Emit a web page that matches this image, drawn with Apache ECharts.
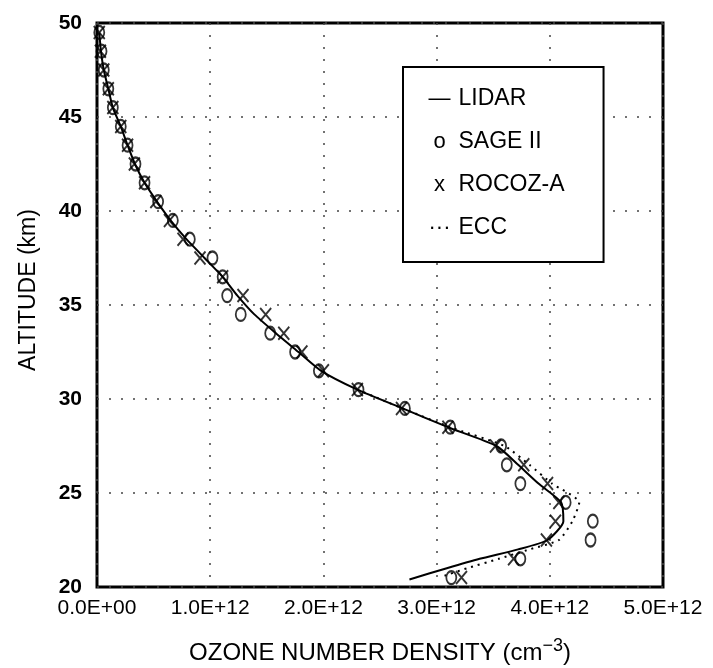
<!DOCTYPE html>
<html>
<head>
<meta charset="utf-8">
<script src="https://cdn.jsdelivr.net/npm/echarts@6/dist/echarts.min.js"></script>
<style>
  html, body { margin: 0; background: #fff; }
  #chart { width: 713px; height: 668px; }
</style>
</head>
<body>
<div id="chart"></div>
<script>
// altitudes (km) of the SAGE II / ROCOZ-A levels
const markerAlt = [49.5, 48.5, 47.5, 46.5, 45.5, 44.5, 43.5, 42.5, 41.5, 40.5,
  39.5, 38.5, 37.5, 36.5, 35.5, 34.5, 33.5, 32.5, 31.5, 30.5,
  29.5, 28.5, 27.5, 26.5, 25.5, 24.5, 23.5, 22.5, 21.5, 20.5];
// number density, units of 1E+12 cm-3
const sageVals = [0.02, 0.04, 0.06, 0.10, 0.14, 0.21, 0.27, 0.34, 0.42, 0.54,
  0.67, 0.82, 1.02, 1.11, 1.15, 1.27, 1.53, 1.75, 1.96, 2.31,
  2.72, 3.12, 3.57, 3.62, 3.74, 4.14, 4.38, 4.36, 3.74, 3.13];
const rocozVals = [0.02, 0.03, 0.06, 0.10, 0.14, 0.21, 0.27, 0.33, 0.42, 0.52,
  0.64, 0.76, 0.91, 1.11, 1.29, 1.49, 1.65, 1.81, 2.00, 2.30,
  2.69, 3.10, 3.52, 3.77, 3.98, 4.08, 4.05, 3.97, 3.68, 3.22];

const lidarAlt = [49.5, 48.5, 47.5, 46.5, 45.5, 44.5, 43.5, 42.5, 41.5, 40.5,
  39.5, 38.5, 37.5, 36.5, 35.5, 34.5, 33.5, 32.5, 31.5, 30.5,
  29.5, 28.5, 27.5, 26.5, 25.5, 24.5, 23.5, 22.5, 22.0, 21.5, 21.0, 20.4];
const lidarVals = [0.02, 0.035, 0.06, 0.10, 0.14, 0.21, 0.27, 0.335, 0.42, 0.53,
  0.65, 0.79, 0.95, 1.11, 1.24, 1.39, 1.58, 1.78, 1.98, 2.30,
  2.70, 3.10, 3.53, 3.72, 3.90, 4.10, 4.12, 3.98, 3.72, 3.38, 3.09, 2.76];

const eccAlt = [30.5, 29.5, 28.5, 27.5, 26.5, 25.5, 24.5, 23.5, 22.5, 22.0, 21.5, 21.0, 20.6];
const eccVals = [2.30, 2.70, 3.12, 3.60, 3.82, 4.02, 4.26, 4.20, 4.08, 3.82, 3.55, 3.27, 3.07];

const xTickLabels = ['0.0E+00', '1.0E+12', '2.0E+12', '3.0E+12', '4.0E+12', '5.0E+12'];
const legendNames = ['LIDAR', 'SAGE II', 'ROCOZ-A', 'ECC'];
const legendMarks = ['—', 'o', 'x', '···'];

const FONT = '"Liberation Sans", Arial, sans-serif';

function pairs(vals, alts) {
  return vals.map((v, i) => [v, alts[i]]);
}

var myChart = echarts.init(document.getElementById('chart'));
myChart.setOption({
  animation: false,
  grid: {
    left: 97, right: 50, top: 23, bottom: 81,
    show: true,
    borderColor: '#000',
    borderWidth: 3,
    outerBoundsMode: 'none'
  },
  legend: {
    data: legendNames,
    orient: 'vertical',
    left: 403,
    top: 67,
    padding: [20, 39, 23, 10],
    itemGap: 20,
    itemWidth: 0,
    itemHeight: 0,
    selectedMode: false,
    borderColor: '#000',
    borderWidth: 2,
    backgroundColor: '#fff',
    formatter: function (name) {
      return '{s|' + legendMarks[legendNames.indexOf(name)] + '}{t|' + name + '}';
    },
    textStyle: {
      rich: {
        s: { width: 38, align: 'center', fontSize: 22, fontFamily: FONT, color: '#000', lineHeight: 24 },
        t: { fontSize: 23, fontFamily: FONT, color: '#000', lineHeight: 24 }
      }
    }
  },
  xAxis: {
    type: 'value',
    min: 0,
    max: 5,
    interval: 1,
    name: 'OZONE NUMBER DENSITY (cm{sup|−3})',
    nameLocation: 'middle',
    nameGap: 50,
    nameTextStyle: {
      fontSize: 24, fontFamily: FONT, color: '#000',
      rich: {
        sup: { fontSize: 18, fontFamily: FONT, color: '#000', padding: [0, 0, 14, 0] }
      }
    },
    axisLine: { show: false },
    axisTick: { show: false },
    axisLabel: {
      margin: 11,
      fontSize: 21,
      fontFamily: FONT,
      color: '#000',
      formatter: function (v) { return xTickLabels[Math.round(v)]; }
    },
    splitLine: {
      show: true,
      lineStyle: { color: '#444', width: 1.5, type: [2, 10] }
    }
  },
  yAxis: {
    type: 'value',
    min: 20,
    max: 50,
    interval: 5,
    name: 'ALTITUDE (km)',
    nameLocation: 'middle',
    nameGap: 57,
    nameTextStyle: { fontSize: 23, fontFamily: FONT, color: '#000', padding: [0, 0, 0, 30] },
    axisLine: { show: false },
    axisTick: { show: false },
    axisLabel: { margin: 15, fontSize: 21, fontWeight: 'bold', fontFamily: FONT, color: '#000' },
    splitLine: {
      show: true,
      lineStyle: { color: '#444', width: 1.5, type: [2, 10] }
    }
  },
  series: [
    {
      name: 'LIDAR',
      type: 'line',
      data: pairs(lidarVals, lidarAlt),
      symbol: 'none',
      smooth: 0.2,
      silent: true,
      lineStyle: { color: '#000', width: 2 },
      itemStyle: { color: '#000' },
      z: 3
    },
    {
      name: 'SAGE II',
      type: 'scatter',
      data: pairs(sageVals, markerAlt),
      symbol: 'circle',
      symbolSize: [10, 13],
      silent: true,
      itemStyle: { color: 'none', borderColor: '#000', borderWidth: 2 },
      z: 4
    },
    {
      name: 'ROCOZ-A',
      type: 'scatter',
      data: pairs(rocozVals, markerAlt),
      symbol: 'path://M0,0L10,12M10,0L0,12',
      symbolSize: [11, 13],
      silent: true,
      itemStyle: { color: 'none', borderColor: '#000', borderWidth: 2 },
      z: 4
    },
    {
      name: 'ECC',
      type: 'line',
      data: pairs(eccVals, eccAlt),
      symbol: 'none',
      smooth: 0.2,
      silent: true,
      lineStyle: { color: '#000', width: 2, type: [2, 5] },
      itemStyle: { color: '#000' },
      z: 3
    }
  ]
});
</script>
</body>
</html>
